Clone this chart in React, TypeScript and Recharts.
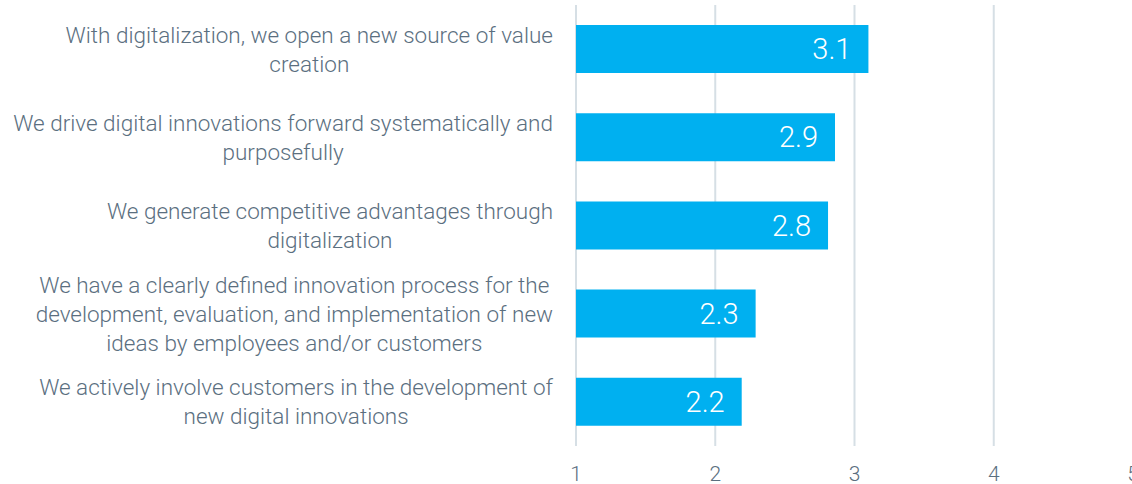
import React from "react";
import { BarChart, Bar, XAxis, YAxis, CartesianGrid, LabelList } from "recharts";

const categories = [
  "With digitalization, we open a new source of value\ncreation",
  "We drive digital innovations forward systematically and\npurposefully",
  "We generate competitive advantages through\ndigitalization",
  "We have a clearly defined innovation process for the\ndevelopment, evaluation, and implementation of new\nideas by employees and/or customers",
  "We actively involve customers in the development of\nnew digital innovations",
];
const values = [3.1, 2.86, 2.81, 2.29, 2.19];
const xTicks = [1, 2, 3, 4, 5];

const data = categories.map((c, i) => ({ name: c, value: values[i] }));

const TEXT_COLOR = "#5b6f7f";
const FONT = "'Roboto', sans-serif";
const CAT_SIZE = 22.5;
const CAT_WEIGHT = 300;

let canvas: HTMLCanvasElement | null = null;
function measure(text: string, size: number) {
  if (typeof document === "undefined") return text.length * size * 0.45;
  if (!canvas) canvas = document.createElement("canvas");
  const ctx = canvas.getContext("2d")!;
  ctx.font = `${CAT_WEIGHT} ${size}px ${FONT}`;
  return ctx.measureText(text).width;
}

const CategoryTick = (props: any) => {
  const { x, y, payload } = props;
  const lines: string[] = String(payload.value).split("\n");
  const maxW = Math.max(...lines.map((l) => measure(l, CAT_SIZE)));
  const right = x - 8;
  const cx = right - maxW / 2;
  const lh = 29;
  const startY = y - ((lines.length - 1) * lh) / 2;
  return (
    <text
      x={cx}
      y={startY}
      textAnchor="middle"
      fill={TEXT_COLOR}
      fontFamily={FONT}
      fontWeight={CAT_WEIGHT}
      fontSize={CAT_SIZE}
      dominantBaseline="central"
    >
      {lines.map((l, i) => (
        <tspan key={i} x={cx} y={startY + i * lh} dominantBaseline="central">
          {l}
        </tspan>
      ))}
    </text>
  );
};

export default function App() {
  return (
    <div style={{ position: "absolute", left: 0, top: 0, width: 1132, height: 484, overflow: "hidden", background: "#fff" }}>
      <BarChart
        width={1160}
        height={484}
        data={data}
        layout="vertical"
        margin={{ top: 5, right: 27, bottom: 0, left: 0 }}
        barCategoryGap={40}
      >
        <CartesianGrid horizontal={false} vertical={true} stroke="#d6dfe5" strokeWidth={2} />
        <XAxis
          type="number"
          domain={[1, 5]}
          ticks={xTicks}
          axisLine={false}
          tickLine={false}
          height={38}
          tickMargin={14}
          tick={{ fill: TEXT_COLOR, fontSize: 21, fontFamily: FONT, fontWeight: 300 }}
        />
        <YAxis
          type="category"
          dataKey="name"
          width={576}
          axisLine={false}
          tickLine={false}
          tickSize={0}
          tickMargin={15}
          tick={<CategoryTick />}
          interval={0}
        />
        <Bar dataKey="value" fill="#00b0f0" barSize={48} isAnimationActive={false}>
          <LabelList
            dataKey="value"
            position="insideRight"
            offset={17}
            fill="#ffffff"
            fontSize={29}
            fontFamily={FONT}
            fontWeight={300}
            formatter={(v: any) => Number(v).toFixed(1)}
          />
        </Bar>
      </BarChart>
    </div>
  );
}
